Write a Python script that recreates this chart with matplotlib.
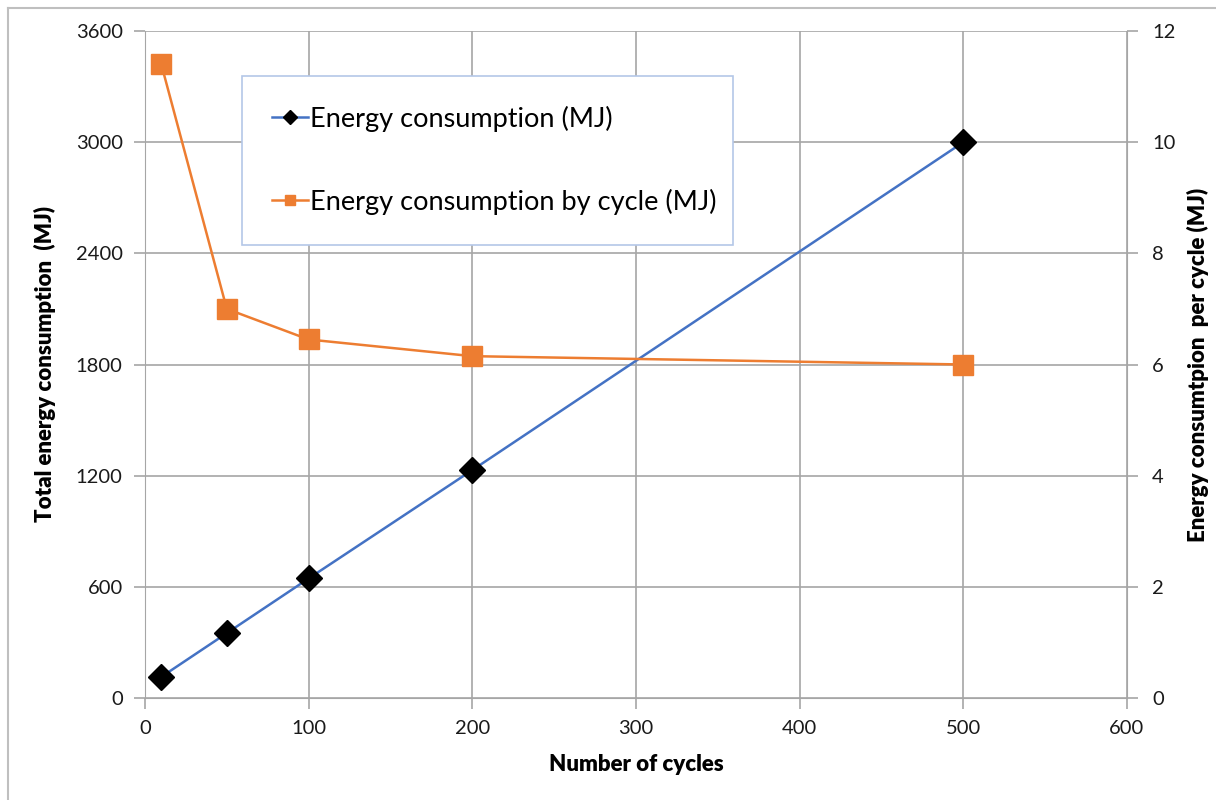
import matplotlib
import matplotlib.pyplot as plt
from matplotlib.lines import Line2D

matplotlib.use('Agg')

plt.rcParams['font.family'] = ['Lato', 'DejaVu Sans']

cycles = [10, 50, 100, 200, 500]
total_energy = [114, 350, 645, 1230, 3000]
energy_per_cycle = [11.4, 7.0, 6.45, 6.15, 6.0]

x_ticks = [0, 100, 200, 300, 400, 500, 600]
left_ticks = [0, 600, 1200, 1800, 2400, 3000, 3600]
right_ticks = [0, 2, 4, 6, 8, 10, 12]

blue = '#4472c4'
orange = '#ed7d31'
grid_col = '#a6a6a6'
text_col = '#1a1a1a'

fig = plt.figure(figsize=(12.16, 8), dpi=100)
ax = fig.add_axes([0.1192, 0.1275, 0.8076, 0.83375])
ax2 = ax.twinx()

# outer chart frame (only top and left visible in the crop)
fig.add_artist(Line2D([8 / 1216, 1], [1 - 8 / 800, 1 - 8 / 800],
                      transform=fig.transFigure, color='#bfbfbf', lw=1.5))
fig.add_artist(Line2D([8 / 1216, 8 / 1216], [0, 1 - 8 / 800],
                      transform=fig.transFigure, color='#bfbfbf', lw=1.5))

l1, = ax.plot(cycles, total_energy, color=blue, lw=1.8, marker='D',
              markersize=13, markerfacecolor='black', markeredgecolor='black',
              zorder=3)
l2, = ax2.plot(cycles, energy_per_cycle, color=orange, lw=1.8, marker='s',
               markersize=14, markerfacecolor=orange, markeredgecolor=orange)

ax.set_xlim(0, 600)
ax.set_ylim(0, 3600)
ax2.set_ylim(0, 12)
ax.set_xticks(x_ticks)
ax.set_yticks(left_ticks)
ax2.set_yticks(right_ticks)

ax.grid(True, color=grid_col, lw=1.2)
ax.set_axisbelow(True)

for a in (ax, ax2):
    for s in a.spines.values():
        s.set_visible(False)
ax.spines['left'].set_visible(True)
ax.spines['left'].set_color(grid_col)
ax.spines['bottom'].set_visible(True)
ax.spines['bottom'].set_color(grid_col)
ax2.spines['right'].set_visible(True)
ax2.spines['right'].set_color(grid_col)

ax.tick_params(axis='both', colors=grid_col, labelcolor=text_col,
               labelsize=14.5, length=8, width=1.2, direction='out', pad=8)
ax2.tick_params(axis='y', colors=grid_col, labelcolor=text_col,
                labelsize=14.5, length=8, width=1.2, direction='out', pad=10)

ax.set_xlabel('Number of cycles', fontsize=16, fontweight='heavy',
              color='black', labelpad=12)
ax.set_ylabel('Total energy consumption  (MJ)', fontsize=16,
              fontweight='heavy', color='black', labelpad=14)
ax2.set_ylabel('Energy consumtpion  per cycle (MJ)', fontsize=16,
               fontweight='heavy', color='black', rotation=90, labelpad=8)

leg = ax2.legend([l1, l2], ['Energy consumption (MJ)',
                            'Energy consumption by cycle (MJ)'],
                 loc='upper left', bbox_to_anchor=(0.0988, 0.685, 0.50, 0.2475),
                 mode='expand', fontsize=19.5, labelspacing=2.1, borderpad=1.1,
                 handlelength=1.35, handletextpad=0.08, borderaxespad=0,
                 fancybox=False, framealpha=1, edgecolor='#b4c7e7',
                 markerscale=0.55)
leg.get_frame().set_linewidth(1.2)

fig.savefig('out.png', dpi=100)
